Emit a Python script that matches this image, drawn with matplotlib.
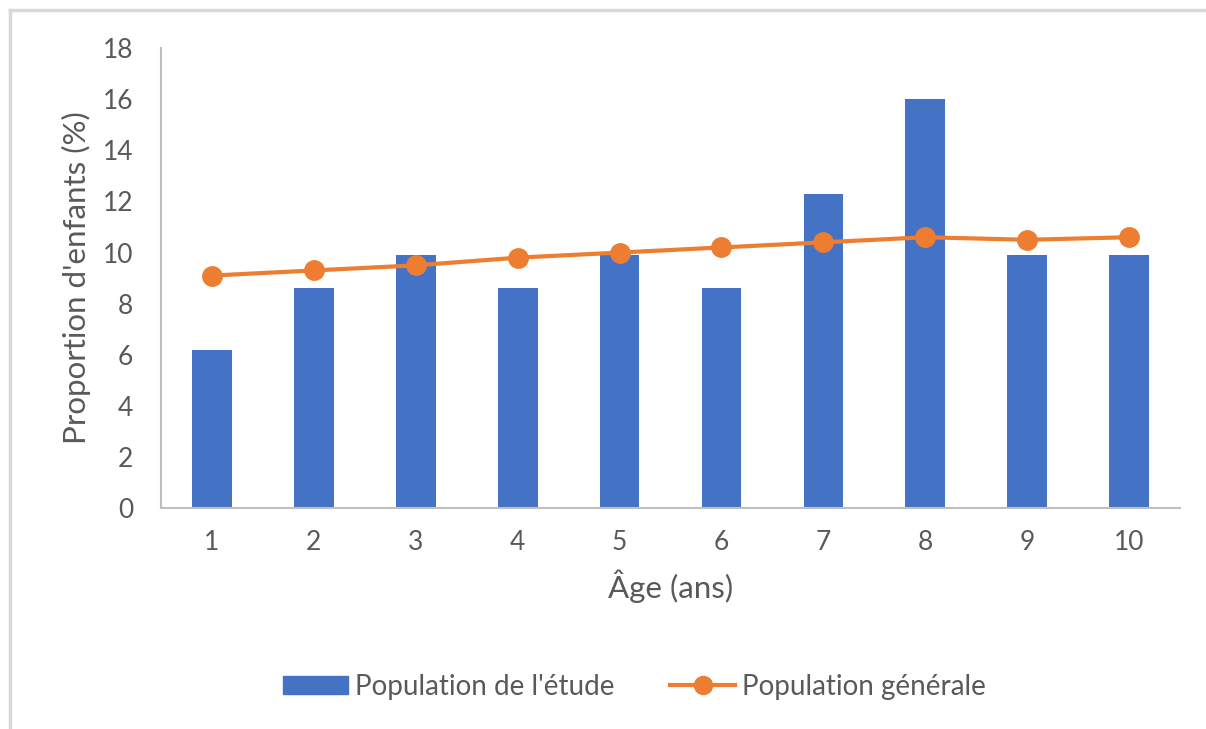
import matplotlib.pyplot as plt
from matplotlib.lines import Line2D
from matplotlib.patches import Patch

# Données
ages = [1, 2, 3, 4, 5, 6, 7, 8, 9, 10]
etude = [6.2, 8.6, 9.9, 8.6, 9.9, 8.6, 12.3, 16.0, 9.9, 9.9]
generale = [9.1, 9.3, 9.5, 9.8, 10.0, 10.2, 10.4, 10.6, 10.5, 10.6]
yticks = [0, 2, 4, 6, 8, 10, 12, 14, 16, 18]

bleu = '#4472C4'
orange = '#ED7D31'
gris = '#595959'

plt.rcParams['font.family'] = ['Lato', 'DejaVu Sans']

fig = plt.figure(figsize=(12.06, 7.29), dpi=100)
ax = fig.add_axes([0.1335, 0.303, 0.845, 0.631])

ax.bar(ages, etude, width=0.39, color=bleu, zorder=2)
ax.plot(ages, generale, color=orange, linewidth=3, marker='o', markersize=14, zorder=3)

ax.set_xlim(0.5, 10.5)
ax.set_ylim(0, 18)
ax.set_yticks(yticks)
ax.set_xticks(ages)
ax.tick_params(axis='both', length=0, labelsize=19, colors=gris)
ax.tick_params(axis='x', pad=16)
ax.tick_params(axis='y', pad=20)

for s in ['top', 'right']:
    ax.spines[s].set_visible(False)
for s in ['left', 'bottom']:
    ax.spines[s].set_color('#bfbfbf')
    ax.spines[s].set_linewidth(1.5)

ax.set_xlabel('Âge (ans)', fontsize=22.5, color=gris, labelpad=10)
ax.set_ylabel("Proportion d'enfants (%)", fontsize=22.5, color=gris, labelpad=8)

handles = [Patch(color=bleu),
           Line2D([], [], color=orange, linewidth=3, marker='o', markersize=13)]
labels = ["Population de l'étude", 'Population générale']
leg = fig.legend(handles, labels, loc='center', bbox_to_anchor=(0.526, 0.058),
                 ncol=2, frameon=False, fontsize=20, handlelength=2.35,
                 handleheight=0.6, handletextpad=0.25, columnspacing=2.0)
for t in leg.get_texts():
    t.set_color(gris)

# Bordure du cadre
fig.add_artist(Line2D([10 / 1206, 1], [1 - 10 / 729, 1 - 10 / 729],
                      transform=fig.transFigure, color='#d9d9d9', linewidth=2.5))
fig.add_artist(Line2D([10 / 1206, 10 / 1206], [0, 1 - 10 / 729],
                      transform=fig.transFigure, color='#d9d9d9', linewidth=2.5))

fig.savefig('out.png', dpi=100)
